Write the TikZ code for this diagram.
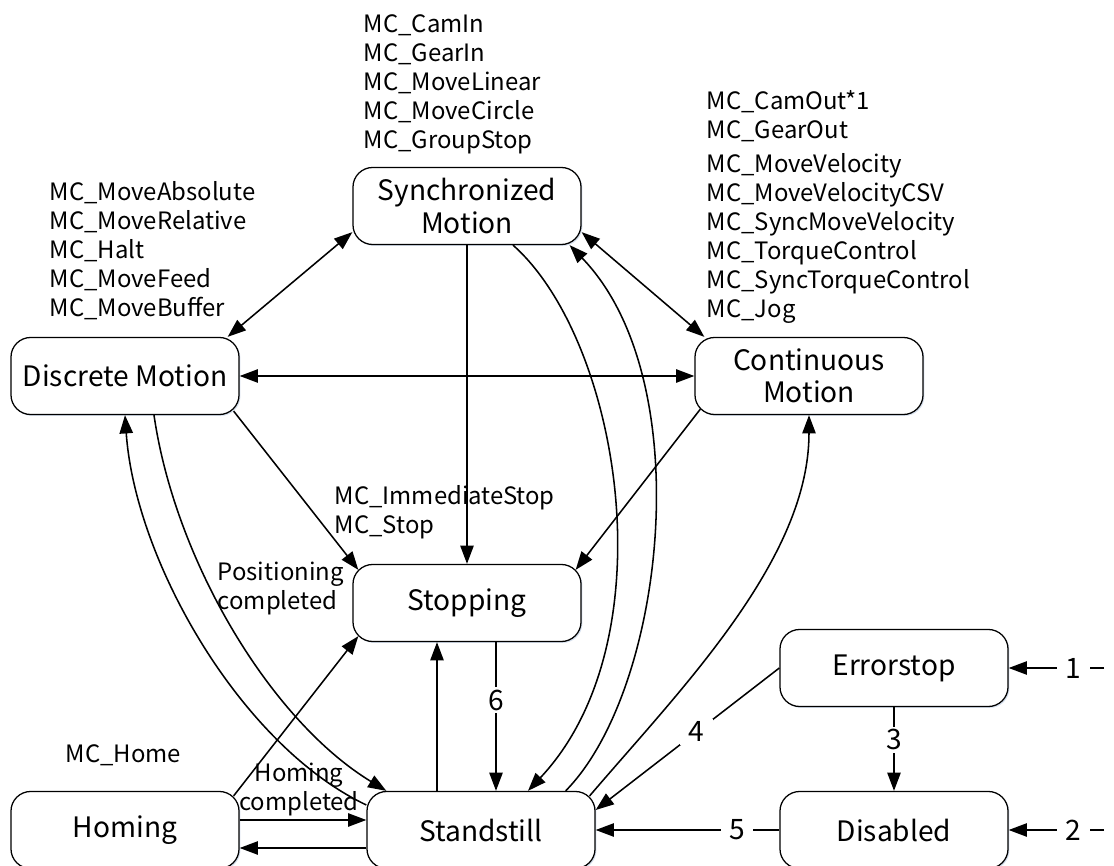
\documentclass[tikz,border=0pt]{standalone}
\usepackage{fontspec}
\setmainfont{Noto Sans CJK SC}
\usetikzlibrary{arrows.meta, calc, shadows}
\definecolor{glow}{HTML}{C5D3E6}
\newcommand{\statefont}{\fontsize{20}{22.8}\selectfont}
\newcommand{\fbfont}{\fontsize{17}{20.6}\selectfont}

\begin{document}
\begin{tikzpicture}[x=0.025cm, y=-0.025cm, >={Triangle[length=13pt, width=9.5pt]}, line width=1.1pt,
  statebox/.style={draw, line width=0.9pt, rounded corners=14pt, fill=white,
      minimum width=5.7cm, minimum height=1.925cm, align=center, font=\statefont, inner sep=2pt,
      drop shadow={shadow xshift=1pt, shadow yshift=-1pt, fill=glow, opacity=0.7}},
  fblist/.style={anchor=north west, align=left, inner sep=0pt, font=\fbfont},
  numlbl/.style={fill=white, font=\statefont, inner xsep=6pt, inner ysep=2pt}]

% Frame
\clip (0,0) rectangle (1114,866);

% States
\node[statebox] (sync) at (467,206) {Synchronized\\Motion};
\node[statebox] (disc) at (125,376) {Discrete Motion};
\node[statebox] (cont) at (809,376) {Continuous\\Motion};
\node[statebox] (stop) at (467,603) {Stopping};
\node[statebox] (err) at (894,668) {Errorstop};
\node[statebox] (home) at (125,830) {Homing};
\node[statebox] (still) at (481,830) {Standstill};
\node[statebox] (dis) at (894,830) {Disabled};

% Function block lists
\node[fblist] (synclist) at (363,14) {MC\_CamIn\\MC\_GearIn\\MC\_MoveLinear\\MC\_MoveCircle\\MC\_GroupStop};
\node[fblist] (disclist) at (49,181) {MC\_MoveAbsolute\\MC\_MoveRelative\\MC\_Halt\\MC\_MoveFeed\\MC\_MoveBuffer};
\node[fblist] (outlist) at (706,90) {MC\_CamOut\kern-1pt*1\\MC\_GearOut};
\node[fblist] (contlist) at (706,153) {MC\_MoveVelocity\\MC\_MoveVelocityCSV\\MC\_SyncMoveVelocity\\MC\_TorqueControl\\MC\_SyncTorqueControl\\MC\_Jog};
\node[fblist] (stoplist) at (334,485) {MC\_ImmediateStop\\MC\_Stop};
\node[fblist] (poslbl) at (217,561) {Positioning\\completed};
\node[fblist] (homelist) at (65,744) {MC\_Home};
\node[font=\fbfont, align=center, inner sep=0pt] (homelbl) at (299,789) {Homing\\completed};

% Motion states
\draw[<->] ($(sync.south west)+(0,-13)$) -- ($(disc.north east)+(-12,0)$);
\draw[<->] ($(sync.south east)+(0,-13)$) -- ($(cont.north west)+(10,0)$);
\draw[<->] (disc.east) -- (cont.west);

% Into stopping
\draw[->] (sync.south) -- (stop.north);
\draw[->] ($(disc.south east)+(-6,-4)$) -- ($(stop.north west)+(6,6)$);
\draw[->] ($(cont.south west)+(6,-6)$) -- ($(stop.north east)+(-6,6)$);
\draw[->] ($(home.north east)+(-6,5)$) -- ($(stop.south west)+(6,-6)$);
\draw[->] ($(still.north)+(-44,0)$) -- ($(stop.south)+(-30,0)$);
\draw[->] ($(stop.south)+(29,0)$) -- node[numlbl, pos=0.39] {6} ($(still.north)+(15,0)$);

% Standstill curves
\draw[->] ($(sync.south)+(46,0)$) .. controls (620,340) and (670,640) .. ($(still.north)+(47,0)$);
\draw[->] ($(still.north east)+(-30,0)$) .. controls (665,690) and (700,380) .. ($(sync.south east)+(-12,0)$);
\draw[->] ($(still.north east)+(-6,5)$) .. controls (680,690) and (809,560) .. (cont.south);
\draw[->] ($(disc.south)+(29,0)$) .. controls (175,560) and (270,720) .. ($(still.north west)+(20,0)$);
\draw[->] ($(still.west)+(0,-25)$) .. controls (240,745) and (135,560) .. (disc.south);

% Homing
\draw[->] ($(home.east)+(0,-10)$) -- ($(still.west)+(0,-10)$);
\draw[->] ($(still.west)+(0,18)$) -- ($(home.east)+(0,18)$);

% Error handling
\coordinate (in1) at (1104,668);
\coordinate (in2) at (1104,830);
\draw[->] (in1) -- node[numlbl, pos=0.32] {1} (err.east);
\draw[->] (in2) -- node[numlbl, pos=0.32] {2} (dis.east);
\draw[->] (err.south) -- node[numlbl, pos=0.39] {3} (dis.north);
\draw[->] (err.west) -- node[numlbl, pos=0.45] {4} ($(still.east)+(0,-20)$);
\draw[->] (dis.west) -- node[numlbl, pos=0.23] {5} (still.east);

\end{tikzpicture}
\end{document}
